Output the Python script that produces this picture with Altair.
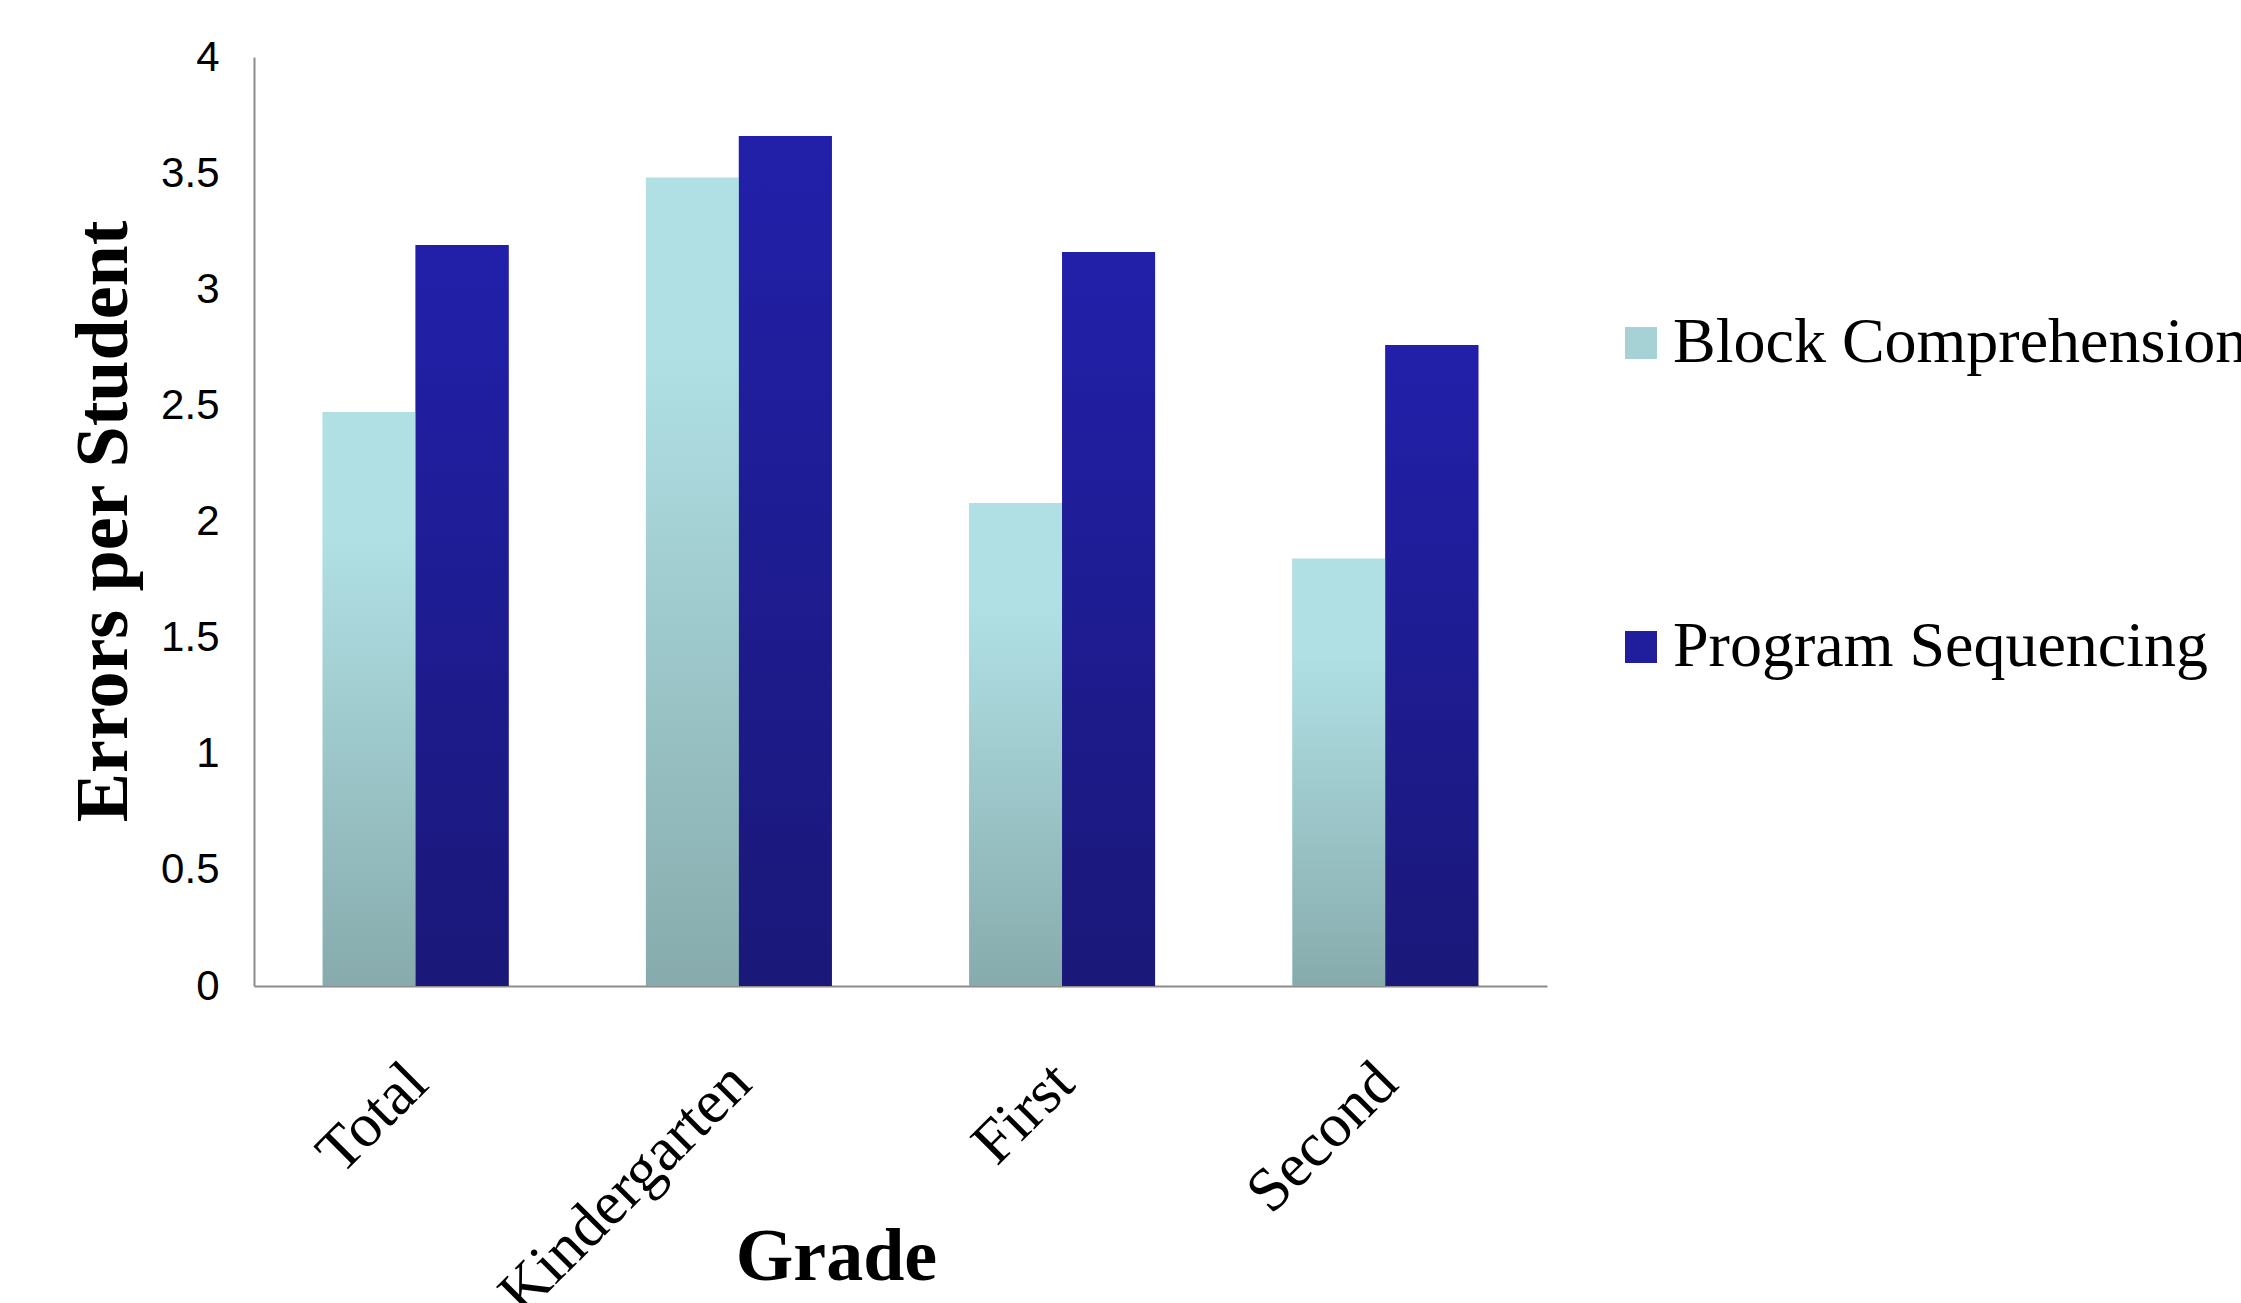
import altair as alt
import pandas as pd

categories = ["Total", "Kindergarten", "First", "Second"]
series = ["Block Comprehension", "Program Sequencing"]
block_values = [2.47, 3.48, 2.08, 1.84]
program_values = [3.19, 3.66, 3.16, 2.76]
y_ticks = [0, 0.5, 1, 1.5, 2, 2.5, 3, 3.5, 4]

rows = []
for c, b, p in zip(categories, block_values, program_values):
    rows.append({"Grade": c, "Series": series[0], "Errors": b})
    rows.append({"Grade": c, "Series": series[1], "Errors": p})
df = pd.DataFrame(rows)

grad_block = alt.Gradient(
    gradient="linear", x1=0, y1=0, x2=0, y2=1,
    stops=[alt.GradientStop(color="#B0E0E4", offset=0),
           alt.GradientStop(color="#B0E0E4", offset=0.22),
           alt.GradientStop(color="#87ABAD", offset=1)])
grad_prog = alt.Gradient(
    gradient="linear", x1=0, y1=0, x2=0, y2=1,
    stops=[alt.GradientStop(color="#2220AA", offset=0),
           alt.GradientStop(color="#1A1878", offset=1)])

x_enc = alt.X("Grade:N", sort=categories,
              scale=alt.Scale(paddingInner=0.425, paddingOuter=0.2125),
              axis=alt.Axis(title="Grade", labelAngle=-45, labelAlign="right",
                            labelBaseline="alphabetic", labelFont="Liberation Serif",
                            labelFontSize=62, labelColor="black", labelPadding=100,
                            labelOffset=15, labelLimit=2000, ticks=False, tickSize=0,
                            domainColor="#8c8c8c", domainWidth=2,
                            titleFont="Liberation Serif", titleFontWeight="bold",
                            titleFontSize=74, titleColor="black",
                            titleX=582, titleY=293, titleBaseline="alphabetic",
                            titleAlign="center", grid=False))
xo_enc = alt.XOffset("Series:N", scale=alt.Scale(domain=series, paddingInner=0, paddingOuter=0))
y_enc = alt.Y("Errors:Q", scale=alt.Scale(domain=[0, 4], nice=False),
              axis=alt.Axis(title="Errors per Student", values=y_ticks, format="~g",
                            labelFont="Liberation Sans", labelFontSize=42,
                            labelColor="black", labelPadding=35, ticks=False,
                            tickSize=0, grid=False, domainColor="#8c8c8c",
                            domainWidth=2, titleFont="Liberation Serif",
                            titleFontWeight="bold", titleFontSize=74,
                            titleColor="black", titleAngle=-90, titleX=-128,
                            titleY=464, titleBaseline="alphabetic",
                            titleAlign="center"))

base = alt.Chart(df).encode(x=x_enc, xOffset=xo_enc, y=y_enc)

legend_layer = base.mark_bar().encode(
    color=alt.Color("Series:N",
                    scale=alt.Scale(domain=series, range=["#A6D2D6", "#201E9C"]),
                    legend=alt.Legend(title=None, orient="none", legendX=1355,
                                      legendY=254, symbolType="square",
                                      symbolSize=1024, symbolStrokeWidth=0,
                                      labelFont="Liberation Serif", labelFontSize=64,
                                      labelColor="black", labelLimit=2000,
                                      labelOffset=0, rowPadding=240, padding=0)))

block_layer = base.mark_bar(fill=grad_block).transform_filter(
    alt.datum.Series == series[0])
prog_layer = base.mark_bar(fill=grad_prog).transform_filter(
    alt.datum.Series == series[1])

chart = alt.layer(legend_layer, block_layer, prog_layer).properties(
    width=1293, height=929,
    autosize=alt.AutoSizeParams(type="none"),
    padding={"left": 254, "top": 57, "right": 694, "bottom": 317},
).configure(background="white").configure_view(stroke=None)

chart.save("out.html", embed_options={"renderer": "svg", "actions": False})
